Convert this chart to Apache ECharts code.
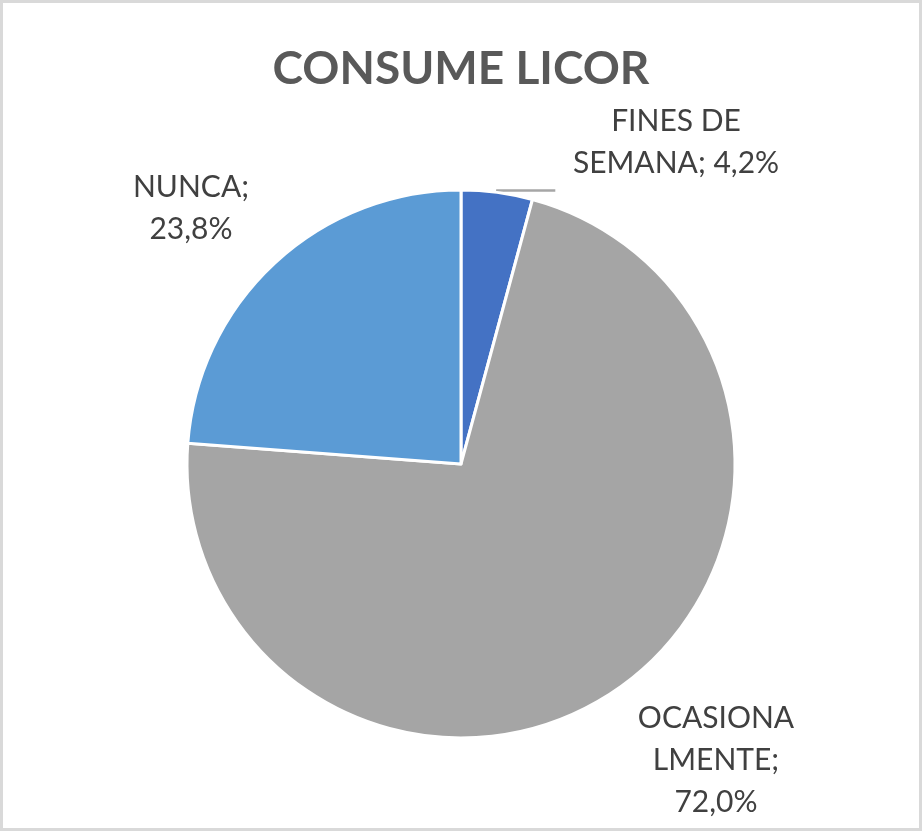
<!DOCTYPE html>
<html>
<head>
<meta charset="utf-8">
<title>CONSUME LICOR</title>
<script src="https://cdn.jsdelivr.net/npm/echarts@6/dist/echarts.min.js"></script>
<style>
/* 整体样式 */
html,
body {
    margin: 0;
    height: 100%;
    overflow: hidden;
    background: #d9d9d9;
}
/* 图表区域 */
#pie {
    position: absolute;
    left: 3px;
    top: 3px;
    width: 916px;
    height: 825px;
    background: #ffffff;
}
</style>
</head>
<body>
<div id="pie"></div>
<script>
// 数据
const categories = ["FINES DE SEMANA", "OCASIONALMENTE", "NUNCA"];
const values = [4.2, 72.0, 23.8];
// 标签换行（与原图一致）
const labelNames = ["FINES DE\nSEMANA;", "OCASIONA\nLMENTE;", "NUNCA;"];
const labelSeps = [" ", "\n", "\n"];
const colors = ["#4472C4", "#A5A5A5", "#5B9BD5"];

// 标签位置（中心点）
const labelPos = [[673, 139], [713, 757], [188, 205]];

let myChart = echarts.init(document.getElementById("pie"));

let optionPie = {
    title: {
        text: "CONSUME LICOR",
        left: "center",
        top: 38,
        textStyle: {
            fontFamily: "Lato",
            fontWeight: "bold",
            fontSize: 46,
            color: "#595959"
        }
    },
    series: [
        {
            type: "pie",
            center: [458, 461],
            radius: 274,
            startAngle: 90,
            clockwise: true,
            animation: false,
            itemStyle: {
                borderColor: "#ffffff",
                borderWidth: 3
            },
            label: {
                show: true,
                position: "outside",
                fontFamily: "Lato",
                fontSize: 30,
                lineHeight: 42,
                color: "#404040",
                align: "center",
                formatter: function (p) {
                    return labelNames[p.dataIndex] + labelSeps[p.dataIndex] +
                        p.value.toFixed(1).replace(".", ",") + "%";
                }
            },
            labelLine: {
                show: false,
                length: 2,
                length2: 58,
                lineStyle: { color: "#a6a6a6", width: 2.5 }
            },
            labelLayout: function (params) {
                let p = labelPos[params.dataIndex];
                return {
                    x: p[0],
                    y: p[1],
                    align: "center",
                    verticalAlign: "middle",
                    labelLinePoints: params.labelLinePoints
                };
            },
            data: categories.map(function (name, i) {
                return {
                    name: name,
                    value: values[i],
                    itemStyle: { color: colors[i] },
                    labelLine: { show: i === 0 }
                };
            })
        }
    ]
};

myChart.setOption(optionPie, true);
</script>
</body>
</html>
